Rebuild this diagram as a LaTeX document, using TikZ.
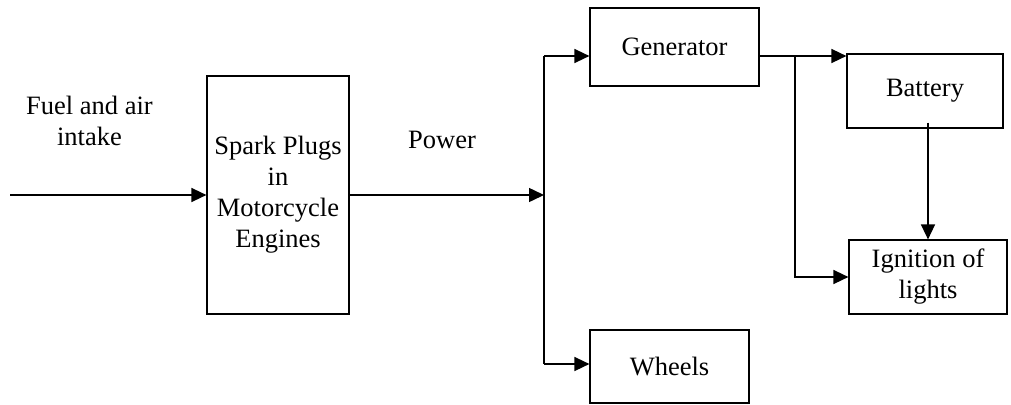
\documentclass[tikz,border=0pt]{standalone}
\usepackage{fontspec}
\setmainfont{Liberation Serif}
\usetikzlibrary{arrows.meta}
\begin{document}
\begin{tikzpicture}[x=1pt,y=-1pt,
  every node/.style={font=\fontsize{26.5}{31}\selectfont, inner sep=0pt, align=center},
  box/.style={draw, line width=1.2pt, rectangle},
  conn/.style={line width=1.5pt},
  arr/.style={conn, -{Triangle[length=15pt,width=14pt]}}]
\useasboundingbox (0,0) rectangle (1011,404);
\node[box, minimum width=142pt, minimum height=238pt] (spark) at (278,195) {Spark Plugs\\in\\Motorcycle\\Engines};
\node[box, minimum width=169pt, minimum height=78pt] (gen) at (674.5,47) {Generator};
\node[box, minimum width=159pt, minimum height=73pt] (wheels) at (669.5,366.5) {Wheels};
\node[box, minimum width=156pt, minimum height=74pt] (bat) at (925,91) {Battery};
\node[box, minimum width=158pt, minimum height=74pt] (ign) at (928,277) {Ignition of\\lights};
\node (fuel) at (89.5,121) {Fuel and air\\intake};
\node (power) at (442,140) {Power};
\coordinate (in) at (10,195);
\coordinate (bus) at (544,195);
\coordinate (bustop) at (544,56);
\coordinate (busbot) at (544,364);
\coordinate (gout) at (759,56);
\coordinate (br) at (795,56);
\draw[arr] (in) -- (spark.west);
\draw[arr] (spark.east) -- (bus);
\draw[conn] (bustop) -- (busbot);
\draw[arr] (bustop) -- (gen.west |- bustop);
\draw[arr] (busbot) -- (wheels.west |- busbot);
\draw[arr] (gout) -- (bat.west |- gout);
\draw[arr] (br) |- (ign.west);
\draw[arr] ([yshift=6pt]ign.north |- bat.south) -- (ign.north);
\end{tikzpicture}
\end{document}
